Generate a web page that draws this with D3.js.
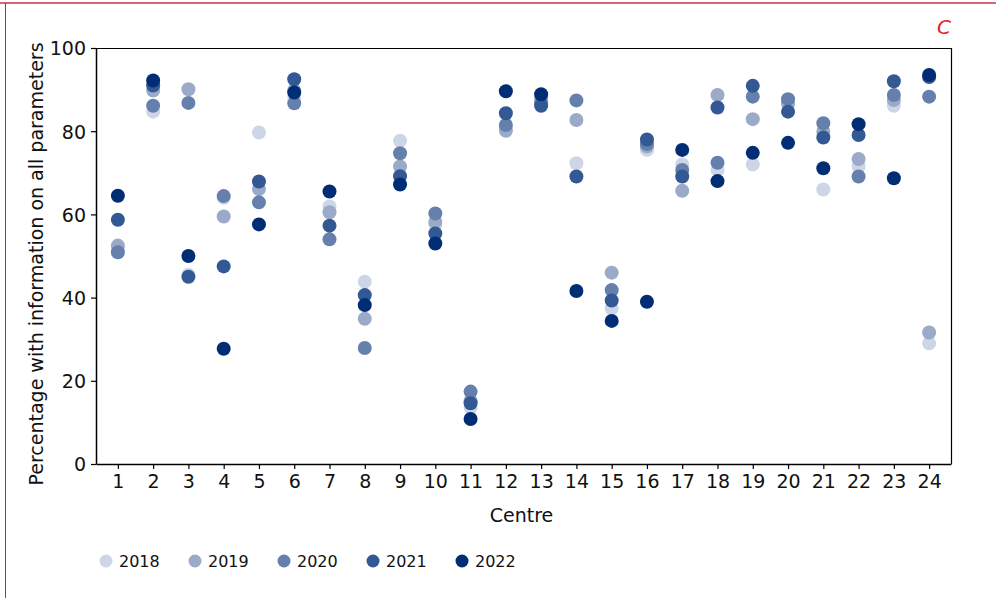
<!DOCTYPE html>
<html>
<head>
<meta charset="utf-8">
<script src="https://cdn.jsdelivr.net/npm/d3@7"></script>
<style>
  body { margin: 0; background: #fff; }
  svg { display: block; font-family: "DejaVu Sans", Verdana, sans-serif; }
</style>
</head>
<body>
<svg id="chart"></svg>
<script>
// centres and yearly percentages
var centres = d3.range(1, 25);
var years = ["2018", "2019", "2020", "2021", "2022"];
var colours = ["#cdd6e6", "#9aaac8", "#6680ae", "#335995", "#002d74"];

var v2018 = [52, 84.7, 45.5, 64, 79.7, 88, 61.9, 43.8, 77.7, 57.5, 13.5, 80.5, 87, 72.3, 37.4, 75.5, 72.0, 70.7, 72.0, 86.5, 66.0, 71.5, 86.1, 29.0];
var v2019 = [52.5, 89.8, 90.1, 59.5, 66.1, 89.8, 60.5, 34.9, 71.5, 58.2, 15.2, 80.1, 87.8, 82.7, 46.0, 76.3, 65.7, 88.7, 82.9, 86.8, 79.9, 73.3, 87.5, 31.6];
var v2020 = [50.9, 86.1, 86.8, 64.4, 62.9, 86.7, 54.0, 27.9, 74.7, 60.2, 17.4, 81.5, 86.8, 87.4, 41.8, 76.9, 70.7, 72.4, 88.3, 87.7, 81.9, 69.1, 88.7, 88.3];
var v2021 = [58.7, 91.0, 45.0, 47.5, 67.9, 92.5, 57.3, 40.6, 69.2, 55.4, 14.6, 84.3, 86.1, 69.1, 39.3, 78.0, 69.1, 85.7, 90.9, 84.7, 78.5, 79.1, 92.0, 93.0];
var v2022 = [64.5, 92.2, 50.0, 27.7, 57.6, 89.3, 65.5, 38.2, 67.2, 53.0, 10.8, 89.6, 88.9, 41.6, 34.4, 39.0, 75.5, 68.0, 74.8, 77.2, 71.1, 81.7, 68.7, 93.5];
var seriesValues = [v2018, v2019, v2020, v2021, v2022];
var yTicks = [0, 20, 40, 60, 80, 100];

var width = 996, height = 598;
var plot = {left: 96, right: 951, top: 48, bottom: 464};

var svg = d3.select("#chart").attr("width", width).attr("height", height);

// page frame: red rule on top, grey rule down the left
svg.append("line").attr("x1", 0).attr("x2", width).attr("y1", 3).attr("y2", 3)
   .attr("stroke", "#c8343f").attr("stroke-width", 1.5);
svg.append("line").attr("x1", 5.5).attr("x2", 5.5).attr("y1", 3).attr("y2", height)
   .attr("stroke", "#555").attr("stroke-width", 1);

svg.append("text").attr("x", 951).attr("y", 34).attr("text-anchor", "end")
   .attr("fill", "#e8202a").attr("font-style", "italic").attr("font-size", 20).text("C");

var xScale = d3.scalePoint().domain(centres).range([plot.left, plot.right]).padding(0.62);
var yScale = d3.scaleLinear().domain([0, 100]).range([plot.bottom, plot.top]);

// box around the plot (top and right)
svg.append("path")
   .attr("d", "M" + plot.left + "," + (plot.top + 0.5) + "H" + (plot.right + 0.5) + "V" + plot.bottom)
   .attr("fill", "none").attr("stroke", "#000").attr("stroke-width", 1.2);

var xAxis = svg.append("g")
   .attr("transform", "translate(0," + plot.bottom + ")")
   .call(d3.axisBottom(xScale).tickSize(5).tickSizeOuter(0).tickPadding(6));
var yAxis = svg.append("g")
   .attr("transform", "translate(" + plot.left + ",0)")
   .call(d3.axisLeft(yScale).tickValues(yTicks).tickSize(5).tickSizeOuter(0).tickPadding(5));

[xAxis, yAxis].forEach(function(ax){
  ax.select(".domain").attr("stroke", "#000").attr("stroke-width", 1.5);
  ax.selectAll(".tick line").attr("stroke", "#000").attr("stroke-width", 1.2);
  ax.selectAll("text").attr("font-size", 19).attr("fill", "#111")
    .attr("font-family", "DejaVu Sans, Verdana, sans-serif");
});
yAxis.selectAll("text").attr("dy", "0.36em");

svg.append("text").attr("x", (plot.left + plot.right) / 2 - 2).attr("y", 522)
   .attr("text-anchor", "middle").attr("font-size", 19).attr("fill", "#111").text("Centre");
svg.append("text")
   .attr("transform", "translate(43," + ((plot.top + plot.bottom) / 2 + 8) + ") rotate(-90)")
   .attr("text-anchor", "middle").attr("font-size", 19).attr("fill", "#111")
   .text("Percentage with information on all parameters");

// points, earlier years underneath
years.forEach(function(yr, i){
  svg.append("g").attr("class", "series-" + yr)
     .selectAll("circle")
     .data(seriesValues[i])
     .enter()
     .append("circle")
     .attr("cx", function(d, j){ return xScale(centres[j]); })
     .attr("cy", function(d){ return yScale(d); })
     .attr("r", 7)
     .attr("fill", colours[i]);
});

// legend
var legend = svg.append("g").attr("transform", "translate(106,561)");
var items = legend.selectAll("g").data(years).enter().append("g")
   .attr("transform", function(d, i){ return "translate(" + (i * 89) + ",0)"; });
items.append("circle").attr("r", 6.5).attr("fill", function(d, i){ return colours[i]; });
items.append("text").attr("x", 13).attr("dy", "0.36em").attr("font-size", 16)
   .attr("fill", "#111").text(function(d){ return d; });
</script>
</body>
</html>
